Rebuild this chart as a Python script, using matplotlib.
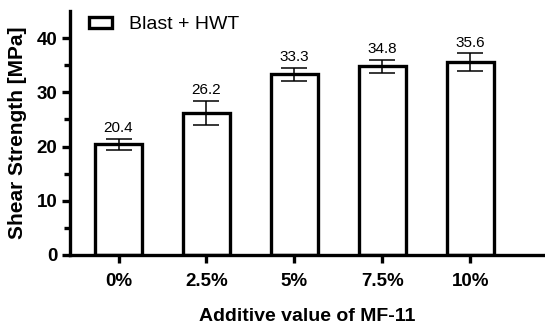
import numpy as np
import matplotlib.pyplot as plt

plt.rcParams['font.family'] = ['Liberation Sans', 'DejaVu Sans']

# data
categories = ['0%', '2.5%', '5%', '7.5%', '10%']
strength = [20.4, 26.2, 33.3, 34.8, 35.6]
errors = [1.0, 2.2, 1.2, 1.2, 1.6]
labels = ['20.4', '26.2', '33.3', '34.8', '35.6']

fig = plt.figure(figsize=(5.45, 3.26), dpi=100)
ax = fig.add_axes([0.128, 0.218, 0.872, 0.748])

x = np.arange(len(categories))
ax.bar(x, strength, width=0.54, color='white', edgecolor='black', linewidth=2.4,
       label='Blast + HWT', zorder=2)
ax.errorbar(x, strength, yerr=errors, fmt='none', ecolor='black', elinewidth=1.1,
            capsize=9.5, capthick=1.1, zorder=3)

for xi, v, e, t in zip(x, strength, errors, labels):
    ax.text(xi, v + e + 0.7, t, ha='center', va='bottom', fontsize=11)

ax.set_xlim(-0.555, 4.85)
ax.set_ylim(0, 45)
ax.set_yticks([0, 10, 20, 30, 40])
ax.set_yticks(np.arange(5, 45, 10), minor=True)
ax.set_xticks(x)
ax.set_xticklabels(categories, fontweight='bold', fontsize=13.5)
for lab in ax.get_yticklabels():
    lab.set_fontweight('bold')
    lab.set_fontsize(13.5)

ax.spines['top'].set_visible(False)
ax.spines['right'].set_visible(False)
ax.spines['left'].set_linewidth(2.4)
ax.spines['bottom'].set_linewidth(2.4)
ax.tick_params(axis='y', which='major', width=2.4, length=6, pad=3)
ax.tick_params(axis='x', which='major', width=2.4, length=6, pad=7)
ax.tick_params(axis='y', which='minor', width=2.4, length=4)

ax.set_ylabel('Shear Strength [MPa]', fontweight='bold', fontsize=15, labelpad=7)
ax.set_xlabel('Additive value of MF-11', fontweight='bold', fontsize=14, labelpad=13)

ax.legend(loc='upper left', bbox_to_anchor=(0.003, 1.05), frameon=False, fontsize=14,
          handlelength=1.2, handleheight=0.55, handletextpad=0.85)

fig.savefig('out.png', dpi=100)
